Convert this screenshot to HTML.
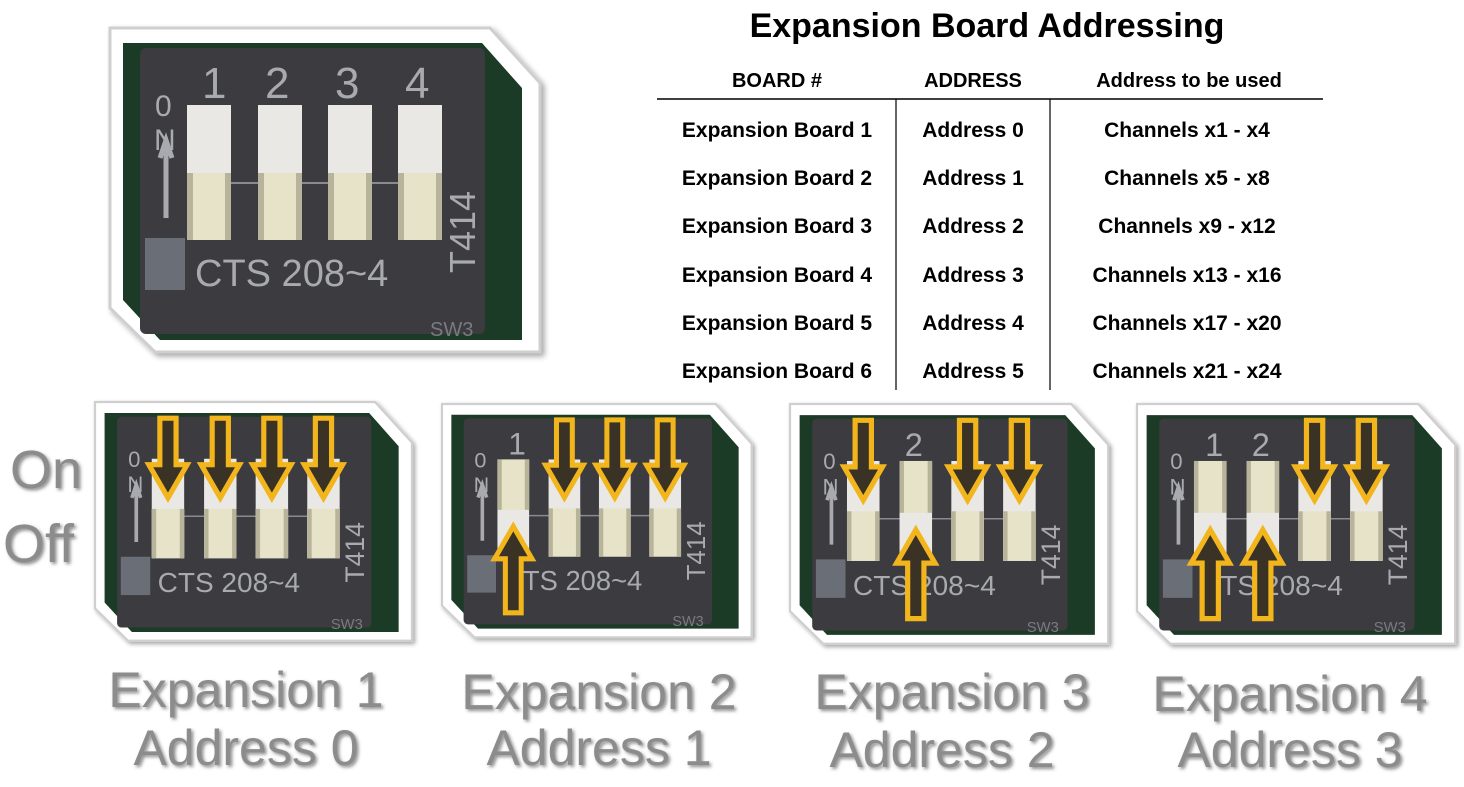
<!DOCTYPE html>
<html><head><meta charset="utf-8"><style>
body{margin:0;background:#fff;width:1464px;height:782px;overflow:hidden;font-family:"Liberation Sans",sans-serif}
</style></head><body>
<svg width="1464" height="782" viewBox="0 0 1464 782" xmlns="http://www.w3.org/2000/svg" font-family="Liberation Sans, sans-serif">
<defs>
<filter id="sh" x="-5%" y="-5%" width="115%" height="115%"><feDropShadow dx="3" dy="3" stdDeviation="3" flood-color="#000" flood-opacity="0.35"/></filter>
<filter id="ts"><feDropShadow dx="2" dy="2" stdDeviation="1.5" flood-color="#444" flood-opacity="0.6"/></filter>
<g id="base">
<polygon points="0,0 380,0 430,55 430,324 45,324 0,280" fill="#fff" stroke="#cfcfcf" stroke-width="3"/>
<polygon points="13,15 372,15 412,60 412,312 50,312 13,272" fill="#1e3b25"/>
<rect x="30" y="20" width="345" height="286" rx="6" fill="#3a3a41"/>
<rect x="35" y="210" width="40" height="52" fill="#6b6e76"/>
<line x1="100" y1="155" x2="330" y2="155" stroke="#8a8a90" stroke-width="2"/>
<path d="M50 130 L56 112 L62 130 M56 115 V190" stroke="#a8aab0" stroke-width="5" fill="none"/>
</g>
<g id="slotOff"><rect x="0" y="0" width="44" height="135" fill="#e9e8e4"/><rect x="0" y="68" width="44" height="67" fill="#e7e3c8"/><rect x="0" y="68" width="6" height="67" fill="#b8b49c"/><rect x="38" y="68" width="6" height="67" fill="#b8b49c"/></g>
<g id="slotUp"><rect x="0" y="0" width="44" height="135" fill="#e9e8e4"/><rect x="0" y="0" width="44" height="70" fill="#e7e3c8"/><rect x="0" y="0" width="6" height="70" fill="#b8b49c"/><rect x="38" y="0" width="6" height="70" fill="#b8b49c"/></g>
<polygon id="adown" points="-11,22 11,22 11,85 26,85 0,130 -26,85 -11,85" fill="#3a3328" stroke="#f2b51e" stroke-width="7" stroke-linejoin="miter"/>
<polygon id="aup" points="-11,290 11,290 11,215 26,215 0,170 -26,215 -11,215" fill="#3a3328" stroke="#f2b51e" stroke-width="7"/>
</defs>

<g transform="translate(110,28)" filter="url(#sh)">
<use href="#base"/>
<use href="#slotOff" x="77" y="77"/><use href="#slotOff" x="148" y="77"/><use href="#slotOff" x="218" y="77"/><use href="#slotOff" x="288" y="77"/>
<g fill="#a8aab0" font-size="44"><text x="92" y="70">1</text><text x="155" y="70">2</text><text x="225" y="70">3</text><text x="295" y="70">4</text></g>
<text x="45" y="88" fill="#a8aab0" font-size="30">0</text><text x="44" y="122" fill="#a8aab0" font-size="30">N</text>
<text x="85" y="258" fill="#a8aab0" font-size="38">CTS  208~4</text>
<text transform="translate(365,245) rotate(-90)" fill="#a8aab0" font-size="36">T414</text>
<text x="320" y="308" fill="#7a7a80" font-size="20">SW3</text>
</g>

<text x="987" y="37" text-anchor="middle" font-size="34" font-weight="bold" fill="#000">Expansion Board Addressing</text>
<g font-size="21" font-weight="bold" fill="#000" text-anchor="middle">
<text x="777" y="87" font-size="20">BOARD #</text><text x="973" y="87" font-size="20">ADDRESS</text><text x="1189" y="87" font-size="20">Address to be used</text>
<text x="777" y="137">Expansion Board 1</text><text x="973" y="137">Address 0</text><text x="1187" y="137">Channels x1 - x4</text>
<text x="777" y="185">Expansion Board 2</text><text x="973" y="185">Address 1</text><text x="1187" y="185">Channels x5 - x8</text>
<text x="777" y="233">Expansion Board 3</text><text x="973" y="233">Address 2</text><text x="1187" y="233">Channels x9 - x12</text>
<text x="777" y="282">Expansion Board 4</text><text x="973" y="282">Address 3</text><text x="1187" y="282">Channels x13 - x16</text>
<text x="777" y="330">Expansion Board 5</text><text x="973" y="330">Address 4</text><text x="1187" y="330">Channels x17 - x20</text>
<text x="777" y="378">Expansion Board 6</text><text x="973" y="378">Address 5</text><text x="1187" y="378">Channels x21 - x24</text>
</g>
<line x1="657" y1="99" x2="1323" y2="99" stroke="#000" stroke-width="1.5"/>
<line x1="896" y1="99" x2="896" y2="390" stroke="#000" stroke-width="1.2"/>
<line x1="1050" y1="99" x2="1050" y2="390" stroke="#000" stroke-width="1.2"/>

<g font-size="54" fill="#8c8c8c" filter="url(#ts)"><text x="10" y="488">On</text><text x="3" y="562">Off</text></g>

<g transform="translate(95,402) scale(0.737)" filter="url(#sh)">
<use href="#base"/>
<use href="#slotOff" x="77" y="77"/><use href="#slotOff" x="148" y="77"/><use href="#slotOff" x="218" y="77"/><use href="#slotOff" x="288" y="77"/>
<text x="85" y="258" fill="#a8aab0" font-size="38">CTS  208~4</text>
<text transform="translate(365,245) rotate(-90)" fill="#a8aab0" font-size="36">T414</text>
<text x="45" y="88" fill="#a8aab0" font-size="30">0</text><text x="44" y="122" fill="#a8aab0" font-size="30">N</text>
<text x="320" y="308" fill="#7a7a80" font-size="20">SW3</text>
<use href="#adown" x="99"/><use href="#adown" x="170"/><use href="#adown" x="240"/><use href="#adown" x="310"/>
</g>
<g transform="translate(442,404) scale(0.72)" filter="url(#sh)">
<use href="#base"/>
<use href="#slotUp" x="77" y="77"/><use href="#slotOff" x="148" y="77"/><use href="#slotOff" x="218" y="77"/><use href="#slotOff" x="288" y="77"/>
<text x="85" y="258" fill="#a8aab0" font-size="38">CTS  208~4</text>
<text transform="translate(365,245) rotate(-90)" fill="#a8aab0" font-size="36">T414</text>
<text x="92" y="70" fill="#a8aab0" font-size="44">1</text>
<text x="45" y="88" fill="#a8aab0" font-size="30">0</text><text x="44" y="122" fill="#a8aab0" font-size="30">N</text>
<text x="320" y="308" fill="#7a7a80" font-size="20">SW3</text>
<use href="#aup" x="99"/><use href="#adown" x="170"/><use href="#adown" x="240"/><use href="#adown" x="310"/>
</g>
<g transform="translate(790,404) scale(0.74)" filter="url(#sh)">
<use href="#base"/>
<use href="#slotOff" x="77" y="77"/><use href="#slotUp" x="148" y="77"/><use href="#slotOff" x="218" y="77"/><use href="#slotOff" x="288" y="77"/>
<text x="85" y="258" fill="#a8aab0" font-size="38">CTS  208~4</text>
<text transform="translate(365,245) rotate(-90)" fill="#a8aab0" font-size="36">T414</text>
<text x="155" y="70" fill="#a8aab0" font-size="44">2</text>
<text x="45" y="88" fill="#a8aab0" font-size="30">0</text><text x="44" y="122" fill="#a8aab0" font-size="30">N</text>
<text x="320" y="308" fill="#7a7a80" font-size="20">SW3</text>
<use href="#adown" x="99"/><use href="#aup" x="170"/><use href="#adown" x="240"/><use href="#adown" x="310"/>
</g>
<g transform="translate(1137,404) scale(0.74)" filter="url(#sh)">
<use href="#base"/>
<use href="#slotUp" x="77" y="77"/><use href="#slotUp" x="148" y="77"/><use href="#slotOff" x="218" y="77"/><use href="#slotOff" x="288" y="77"/>
<text x="85" y="258" fill="#a8aab0" font-size="38">CTS  208~4</text>
<text transform="translate(365,245) rotate(-90)" fill="#a8aab0" font-size="36">T414</text>
<text x="92" y="70" fill="#a8aab0" font-size="44">1</text><text x="155" y="70" fill="#a8aab0" font-size="44">2</text>
<text x="45" y="88" fill="#a8aab0" font-size="30">0</text><text x="44" y="122" fill="#a8aab0" font-size="30">N</text>
<text x="320" y="308" fill="#7a7a80" font-size="20">SW3</text>
<use href="#aup" x="99"/><use href="#aup" x="170"/><use href="#adown" x="240"/><use href="#adown" x="310"/>
</g>

<g font-size="50" fill="#8c8c8c" text-anchor="middle" filter="url(#ts)">
<text x="246" y="707">Expansion 1</text><text x="246" y="765">Address 0</text>
<text x="599" y="709">Expansion 2</text><text x="599" y="765">Address 1</text>
<text x="952" y="709">Expansion 3</text><text x="942" y="767">Address 2</text>
<text x="1290" y="711">Expansion 4</text><text x="1290" y="767">Address 3</text>
</g>
</svg>
</body></html>
